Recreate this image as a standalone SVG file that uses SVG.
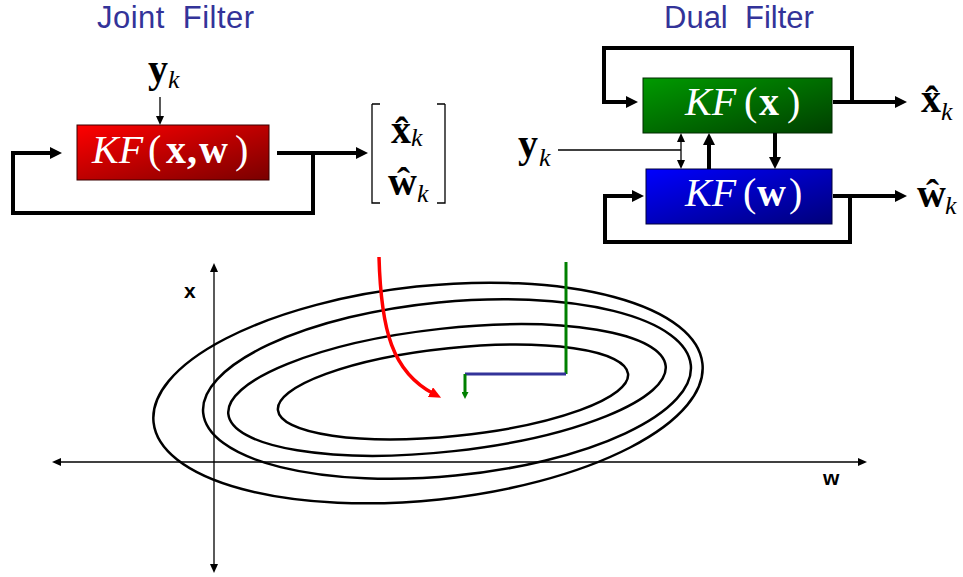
<svg xmlns="http://www.w3.org/2000/svg" width="963" height="577" viewBox="0 0 963 577">
<style>
.title{font-family:"Liberation Sans",Arial,sans-serif;font-size:31px;fill:#333399;white-space:pre}
.m{font-family:"Liberation Serif","Times New Roman",serif;font-size:40px}
.it{font-style:italic}
.b{font-weight:bold}
.sub{font-family:"Liberation Serif","Times New Roman",serif;font-size:26px;font-style:italic}
.w{fill:#fff}
.thick{fill:none;stroke:#000;stroke-width:4;stroke-linejoin:miter}
.thin{fill:none;stroke:#000;stroke-width:1.3}
.ell{fill:none;stroke:#000;stroke-width:2.5}
.ax{font-family:"Liberation Sans",Arial,sans-serif;font-size:21px;font-weight:bold}
</style>
<defs>
<linearGradient id="gr" x1="0" y1="0" x2="1" y2="1"><stop offset="0" stop-color="#ff0000"/><stop offset="1" stop-color="#7a0000"/></linearGradient>
<linearGradient id="gg" x1="0" y1="0" x2="1" y2="1"><stop offset="0" stop-color="#009a00"/><stop offset="1" stop-color="#003f00"/></linearGradient>
<linearGradient id="gb" x1="0" y1="0" x2="1" y2="1"><stop offset="0" stop-color="#0000ff"/><stop offset="1" stop-color="#00007a"/></linearGradient>
<marker id="ah" markerUnits="userSpaceOnUse" markerWidth="12" markerHeight="12" refX="4" refY="6" orient="auto"><path d="M0,0 L12,6 L0,12 z" fill="#000"/></marker>
<marker id="at" markerUnits="userSpaceOnUse" markerWidth="9" markerHeight="8" refX="3" refY="4" orient="auto-start-reverse"><path d="M0,0 L9,4 L0,8 z" fill="#000"/></marker>
<marker id="ar" markerUnits="userSpaceOnUse" markerWidth="12" markerHeight="11" refX="4" refY="5.5" orient="auto"><path d="M0,0 L12,5.5 L0,11 z" fill="#ff0000"/></marker>
<marker id="ag" markerUnits="userSpaceOnUse" markerWidth="7" markerHeight="7" refX="2" refY="3.5" orient="auto"><path d="M0,0 L7,3.5 L0,7 z" fill="#008000"/></marker>
</defs>

<text class="title" x="97" y="28" textLength="157" lengthAdjust="spacing">Joint  Filter</text>
<text class="title" x="664" y="28">Dual  Filter</text>

<g id="joint-kf">
<rect x="77" y="125" width="192" height="55" fill="url(#gr)" stroke="#3a0000" stroke-width="1"/>
<text class="m w" y="163"><tspan class="it" x="92">KF</tspan><tspan x="148">(</tspan><tspan class="b" x="166">x</tspan><tspan class="b" x="187">,</tspan><tspan class="b" x="199">w</tspan><tspan x="235">)</tspan></text>
</g>
<g id="joint-yk">
<text class="m b" x="148" y="82">y</text><text class="sub" x="168" y="88">k</text>
</g>
<g id="joint-out">
<path d="M372,104 H380 M372,104 V203 H380" class="thin" stroke-width="1.6"/>
<path d="M445,104 H437 M445,104 V203 H437" class="thin" stroke-width="1.6"/>
<text class="m b" x="391" y="143">x̂</text><text class="sub" x="411" y="146">k</text>
<text class="m b" x="388" y="195">ŵ</text><text class="sub" x="417" y="202">k</text>
</g>

<g id="dual-kfx">
<rect x="643" y="78" width="189" height="55" fill="url(#gg)" stroke="#002a00" stroke-width="1"/>
<text class="m w" y="115"><tspan class="it" x="685">KF</tspan><tspan x="744">(</tspan><tspan class="b" x="759">x</tspan><tspan x="787">)</tspan></text>
</g>
<g id="dual-kfw">
<rect x="646" y="169" width="186" height="55" fill="url(#gb)" stroke="#00003a" stroke-width="1"/>
<text class="m w" y="206"><tspan class="it" x="685">KF</tspan><tspan x="743">(</tspan><tspan class="b" x="757">w</tspan><tspan x="789">)</tspan></text>
</g>
<g id="dual-yk">
<text class="m b" x="518" y="157">y</text><text class="sub" x="539" y="166">k</text>
</g>
<g id="dual-xhat">
<text class="m b" x="921" y="112">x̂</text><text class="sub" x="941" y="120">k</text>
</g>
<g id="dual-what">
<text class="m b" x="917" y="207">ŵ</text><text class="sub" x="945" y="214">k</text>
</g>

<g id="connectors">
<line x1="160" y1="97" x2="160" y2="119" class="thin" marker-end="url(#at)"/>
<path d="M277,153 H360" class="thick" marker-end="url(#ah)"/>
<path d="M313,153 V213 H13 V153 H54" class="thick" marker-end="url(#ah)"/>
<path d="M833,102 H899" class="thick" marker-end="url(#ah)"/>
<path d="M852,102 V48 H604 V102 H630" class="thick" marker-end="url(#ah)"/>
<path d="M833,196 H899" class="thick" marker-end="url(#ah)"/>
<path d="M850,196 V242 H605 V196 H636" class="thick" marker-end="url(#ah)"/>
<path d="M558,150 H681" class="thin"/>
<line x1="681" y1="139" x2="681" y2="163" class="thin" marker-start="url(#at)" marker-end="url(#at)"/>
<line x1="709" y1="169" x2="709" y2="141" class="thick" marker-end="url(#ah)"/>
<line x1="775" y1="133" x2="775" y2="161" class="thick" marker-end="url(#ah)"/>
</g>

<g id="plot">
<line x1="58" y1="462" x2="861" y2="462" class="thin" marker-start="url(#at)" marker-end="url(#at)"/>
<line x1="214" y1="269" x2="214" y2="567" class="thin" marker-start="url(#at)" marker-end="url(#at)"/>
<text class="ax" x="184" y="298">x</text>
<text class="ax" x="823" y="485">w</text>
<ellipse class="ell" cx="428" cy="393" rx="276" ry="107" transform="rotate(-6.1 428 393)"/>
<ellipse class="ell" cx="447" cy="389" rx="245" ry="87" transform="rotate(-5.6 447 389)"/>
<ellipse class="ell" cx="447" cy="390" rx="220" ry="61.5" transform="rotate(-6.3 447 390)"/>
<ellipse class="ell" cx="453" cy="392" rx="176" ry="44" transform="rotate(-5.9 453 392)"/>
<path d="M379,257 C381,330 392,372 434,394" fill="none" stroke="#ff0000" stroke-width="3.5" marker-end="url(#ar)"/>
<path d="M566,262 V374" fill="none" stroke="#008000" stroke-width="3"/>
<path d="M566,374 H465" fill="none" stroke="#333399" stroke-width="3"/>
<path d="M465,374 V394" fill="none" stroke="#008000" stroke-width="3" marker-end="url(#ag)"/>
</g>
</svg>
